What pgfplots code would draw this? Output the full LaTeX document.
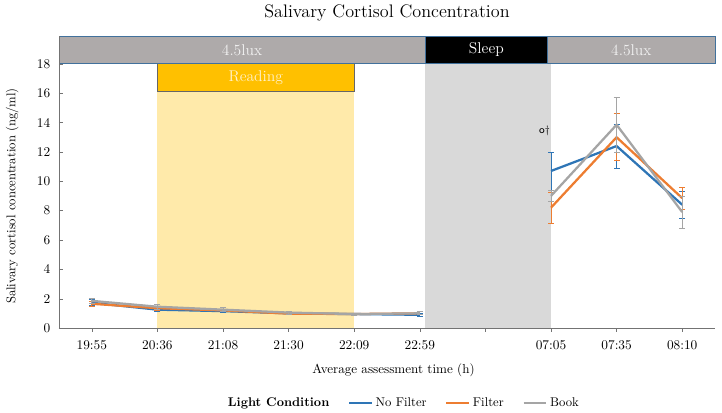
\documentclass[border=0pt]{standalone}
\usepackage{pgfplots}
\usepackage{pgfplotstable}
\pgfplotsset{compat=1.18}
\definecolor{cNF}{HTML}{2E75B6}
\definecolor{cF}{HTML}{ED7D31}
\definecolor{cB}{HTML}{A5A5A5}
\definecolor{band}{HTML}{AEAAAA}
\definecolor{bandedge}{HTML}{41719C}
\definecolor{readbox}{HTML}{FFC000}
\definecolor{readfill}{HTML}{FFEAAA}
\definecolor{sleepfill}{HTML}{D9D9D9}
\definecolor{readtext}{HTML}{FFF2CC}

\pgfplotstableread{
x y e
0 1.72 0.20
1 1.25 0.10
2 1.15 0.10
3 1.00 0.08
4 0.95 0.06
5 0.90 0.12
}\nfA
\pgfplotstableread{
x y e
7 10.7 1.30
8 12.4 1.50
9 8.40 0.90
}\nfB
\pgfplotstableread{
x y e
0 1.65 0.15
1 1.35 0.12
2 1.20 0.10
3 0.98 0.08
4 0.95 0.06
5 1.00 0.10
}\fA
\pgfplotstableread{
x y e
7 8.20 1.05
8 13.0 1.60
9 8.85 0.75
}\fB
\pgfplotstableread{
x y e
0 1.85 0.20
1 1.45 0.18
2 1.25 0.15
3 1.05 0.10
4 0.95 0.06
5 1.00 0.10
}\bA
\pgfplotstableread{
x y e
7 9.00 0.35
8 13.85 1.85
9 7.90 1.10
}\bB

\begin{document}
\begin{tikzpicture}
\begin{axis}[
  scale only axis,
  width=492pt, height=219pt,
  xmin=-0.5, xmax=9.5,
  ymin=0, ymax=19.9,
  axis x line=bottom, axis y line=left,
  axis line style={-, draw=black!55},
  xtick={0,...,9},
  xticklabels={19:55,20:36,21:08,21:30,22:09,22:59,,07:05,07:35,08:10},
  ytick={0,2,...,18},
  major tick length=3pt,
  y tick style={draw=black!55},
  x tick style={draw=black!55},
  xtick align=outside,
  ytick align=inside,
  tick label style={font=\fontsize{10}{12}\selectfont},
  /pgf/number format/assume math mode=true,
  xticklabel style={yshift=-3pt},
  yticklabel style={xshift=-3pt},
  xlabel={Average assessment time (h)},
  ylabel={Salivary cortisol concentration (ng/ml)},
  xlabel style={font=\fontsize{9.8}{11}\selectfont, at={(axis description cs:0.51,0)}, anchor=center, yshift=-32pt},
  ylabel style={font=\fontsize{9.5}{11}\selectfont, at={(axis description cs:-0.0715,0.452)}, anchor=center, rotate=0},
  title={Salivary Cortisol Concentration},
  title style={font=\fontsize{13.6}{16}\selectfont, at={(axis description cs:0.5,1)}, anchor=center, yshift=11pt},
  clip=false,
  axis on top,
  legend columns=4,
  legend style={at={(axis description cs:0.525,0)}, anchor=center, yshift=-56pt, draw=none,
    font=\fontsize{9.5}{11}\selectfont, /tikz/every even column/.append style={column sep=12pt}},
  error bars/error bar style={line width=0.6pt},
  error bars/error mark options={rotate=90, mark size=2.2pt, line width=0.6pt},
]
\coordinate (bl) at (rel axis cs:0,0);
% backgrounds
\fill[readfill] (axis cs:1,0) rectangle (axis cs:4,16.1);
\draw[fill=readbox, draw=black!60, line width=0.6pt] (axis cs:1,16.1) rectangle (axis cs:4,18)
  node[midway, text=readtext, font=\fontsize{11.7}{13}\selectfont] {Reading};
\fill[sleepfill] (axis cs:5.08,0) rectangle (axis cs:7,18);
\draw[fill=band, draw=bandedge, line width=0.6pt] (axis cs:-0.5,18) rectangle (axis cs:5.08,19.9)
  node[midway, text=white!95!black, font=\fontsize{11.7}{13}\selectfont] {4.5lux};
\draw[fill=black, draw=bandedge, line width=0.6pt] (axis cs:5.08,18) rectangle (axis cs:6.95,19.9)
  node[midway, text=white, font=\fontsize{11.7}{13}\selectfont] {Sleep};
\draw[fill=band, draw=bandedge, line width=0.6pt] (axis cs:6.95,18) rectangle (axis cs:9.5,19.9)
  node[midway, text=white!95!black, font=\fontsize{11.7}{13}\selectfont] {4.5lux};

\addlegendimage{empty legend}
\addlegendentry{\textbf{Light Condition}}

\addplot[cNF, line width=1.7pt, mark=none, error bars/.cd, y dir=both, y explicit] table[x=x,y=y,y error=e]{\nfA};
\addlegendentry{No Filter}
\addplot[cF, line width=1.7pt, mark=none, error bars/.cd, y dir=both, y explicit] table[x=x,y=y,y error=e]{\fA};
\addlegendentry{Filter}
\addplot[cB, line width=1.7pt, mark=none, error bars/.cd, y dir=both, y explicit] table[x=x,y=y,y error=e]{\bA};
\addlegendentry{Book}
\addplot[cNF, line width=1.7pt, mark=none, forget plot, error bars/.cd, y dir=both, y explicit] table[x=x,y=y,y error=e]{\nfB};
\addplot[cF, line width=1.7pt, mark=none, forget plot, error bars/.cd, y dir=both, y explicit] table[x=x,y=y,y error=e]{\fB};
\addplot[cB, line width=1.7pt, mark=none, forget plot, error bars/.cd, y dir=both, y explicit] table[x=x,y=y,y error=e]{\bB};

\node[font=\sffamily\fontsize{8}{9}\selectfont] at (axis cs:6.9,13.4) {o\textdagger};
\end{axis}
\pgfresetboundingbox
\path (bl) ++(-44.25pt,-63.75pt) rectangle ++(541.5pt,309.75pt);
\end{tikzpicture}
\end{document}
